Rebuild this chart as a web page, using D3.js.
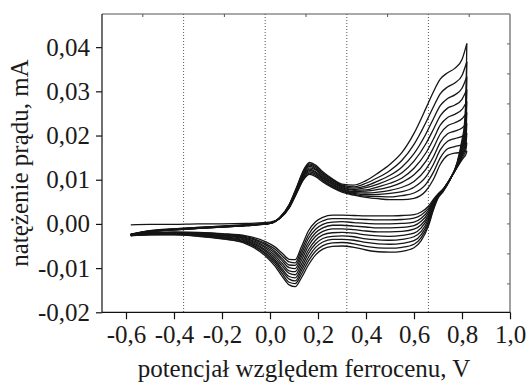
<!DOCTYPE html>
<html><head><meta charset="utf-8">
<script src="https://cdn.jsdelivr.net/npm/d3@7"></script>
<style>body{margin:0;background:#fff} svg{display:block}</style>
</head><body><svg id="c" width="530" height="383"></svg>
<script>
// ---- data ----
const xTicks = [-0.6, -0.4, -0.2, 0.0, 0.2, 0.4, 0.6, 0.8, 1.0];
const yTicks = [-0.02, -0.01, 0.00, 0.01, 0.02, 0.03, 0.04];
const topGrid = [-0.36, -0.02, 0.32, 0.66];
const topTicks = [-0.53, -0.19, 0.15, 0.49, 0.83];
const rightTicks = [-2, -1, 0, 1, 2, 3, 4, 5, 6];

// forward (anodic) scan potentials, V
const forwardPotential = [-0.58, -0.50, -0.40, -0.30, -0.20, -0.10, 0.00, 0.04, 0.08, 0.11, 0.14, 0.165, 0.19, 0.22, 0.26, 0.30, 0.35, 0.40, 0.45, 0.50, 0.55, 0.60, 0.65, 0.68, 0.71, 0.74, 0.77, 0.80, 0.82];
// forward scan current, mA, cycles 1..10
const forwardCurrent = [
 [-0.0002,-0.0001,-0.0001,0.0000,0.0000,0.0001,0.0004,0.0012,0.0036,0.0068,0.0100,0.0112,0.0107,0.0095,0.0082,0.0072,0.0065,0.0060,0.0057,0.0055,0.0055,0.0058,0.0075,0.0100,0.0135,0.0155,0.0160,0.0162,0.0165],
 [-0.0023,-0.0015,-0.0011,-0.0008,-0.0005,-0.0002,0.0002,0.0012,0.0037,0.0070,0.0102,0.0115,0.0110,0.0098,0.0084,0.0074,0.0067,0.0063,0.0062,0.0061,0.0064,0.0070,0.0090,0.0116,0.0150,0.0170,0.0175,0.0179,0.0184],
 [-0.0024,-0.0016,-0.0011,-0.0008,-0.0005,-0.0002,0.0002,0.0012,0.0038,0.0071,0.0105,0.0118,0.0113,0.0100,0.0086,0.0076,0.0069,0.0066,0.0067,0.0069,0.0073,0.0083,0.0107,0.0134,0.0168,0.0187,0.0193,0.0198,0.0206],
 [-0.0024,-0.0016,-0.0012,-0.0009,-0.0006,-0.0003,0.0002,0.0013,0.0039,0.0073,0.0107,0.0121,0.0116,0.0103,0.0089,0.0078,0.0071,0.0070,0.0072,0.0076,0.0083,0.0096,0.0124,0.0151,0.0185,0.0204,0.0210,0.0217,0.0228],
 [-0.0025,-0.0017,-0.0012,-0.0009,-0.0006,-0.0003,0.0002,0.0013,0.0040,0.0074,0.0110,0.0124,0.0118,0.0105,0.0091,0.0080,0.0073,0.0074,0.0078,0.0084,0.0094,0.0111,0.0142,0.0171,0.0204,0.0222,0.0229,0.0238,0.0252],
 [-0.0025,-0.0017,-0.0012,-0.0009,-0.0006,-0.0003,0.0001,0.0013,0.0040,0.0076,0.0112,0.0127,0.0122,0.0108,0.0093,0.0082,0.0076,0.0077,0.0084,0.0092,0.0104,0.0126,0.0161,0.0191,0.0224,0.0241,0.0248,0.0259,0.0277],
 [-0.0025,-0.0017,-0.0013,-0.0010,-0.0007,-0.0003,0.0001,0.0013,0.0041,0.0077,0.0115,0.0130,0.0124,0.0110,0.0095,0.0084,0.0078,0.0082,0.0090,0.0101,0.0116,0.0142,0.0182,0.0213,0.0245,0.0262,0.0269,0.0282,0.0304],
 [-0.0026,-0.0018,-0.0013,-0.0010,-0.0007,-0.0004,0.0001,0.0014,0.0042,0.0079,0.0117,0.0133,0.0127,0.0113,0.0098,0.0086,0.0081,0.0086,0.0097,0.0110,0.0129,0.0159,0.0204,0.0237,0.0268,0.0284,0.0292,0.0307,0.0333],
 [-0.0026,-0.0018,-0.0013,-0.0010,-0.0007,-0.0004,0.0001,0.0014,0.0043,0.0080,0.0120,0.0136,0.0130,0.0115,0.0100,0.0088,0.0084,0.0092,0.0105,0.0121,0.0144,0.0180,0.0230,0.0264,0.0295,0.0310,0.0319,0.0336,0.0367],
 [-0.0027,-0.0018,-0.0014,-0.0010,-0.0007,-0.0004,0.0001,0.0014,0.0044,0.0082,0.0122,0.0139,0.0133,0.0118,0.0102,0.0090,0.0088,0.0098,0.0115,0.0135,0.0162,0.0205,0.0262,0.0298,0.0328,0.0342,0.0352,0.0372,0.0408]
];

// reverse (cathodic) scan potentials, V
const reversePotential = [0.82, 0.818, 0.815, 0.81, 0.80, 0.78, 0.75, 0.72, 0.70, 0.68, 0.66, 0.63, 0.60, 0.55, 0.50, 0.45, 0.40, 0.35, 0.30, 0.26, 0.22, 0.19, 0.16, 0.13, 0.105, 0.08, 0.05, 0.02, -0.02, -0.10, -0.20, -0.30, -0.40, -0.50, -0.58];
// reverse scan current, mA, cycles 1..10
const reverseCurrent = [
 [0.0165,0.0160,0.0156,0.0152,0.0145,0.0128,0.0102,0.0078,0.0068,0.0055,0.0040,0.0027,0.0021,0.0019,0.0018,0.0018,0.0018,0.0019,0.0020,0.0020,0.0015,0.0005,-0.0016,-0.0053,-0.0081,-0.0080,-0.0066,-0.0052,-0.0040,-0.0027,-0.0022,-0.0019,-0.0018,-0.0020,-0.0023],
 [0.0184,0.0174,0.0165,0.0158,0.0149,0.0129,0.0102,0.0078,0.0067,0.0052,0.0035,0.0020,0.0013,0.0010,0.0009,0.0009,0.0010,0.0011,0.0012,0.0012,0.0007,-0.0003,-0.0025,-0.0061,-0.0088,-0.0086,-0.0072,-0.0057,-0.0044,-0.0029,-0.0023,-0.0020,-0.0019,-0.0021,-0.0023],
 [0.0206,0.0189,0.0175,0.0164,0.0153,0.0130,0.0101,0.0077,0.0066,0.0050,0.0030,0.0013,0.0004,0.0001,0.0000,0.0000,0.0001,0.0003,0.0005,0.0004,-0.0001,-0.0012,-0.0033,-0.0069,-0.0094,-0.0093,-0.0078,-0.0062,-0.0047,-0.0031,-0.0025,-0.0021,-0.0020,-0.0021,-0.0024],
 [0.0228,0.0204,0.0186,0.0171,0.0157,0.0131,0.0101,0.0077,0.0065,0.0047,0.0025,0.0006,-0.0004,-0.0008,-0.0009,-0.0009,-0.0007,-0.0005,-0.0003,-0.0003,-0.0009,-0.0020,-0.0042,-0.0076,-0.0101,-0.0099,-0.0083,-0.0066,-0.0051,-0.0033,-0.0026,-0.0022,-0.0020,-0.0022,-0.0024],
 [0.0252,0.0221,0.0197,0.0178,0.0161,0.0132,0.0101,0.0076,0.0064,0.0044,0.0020,-0.0002,-0.0012,-0.0017,-0.0018,-0.0018,-0.0016,-0.0013,-0.0011,-0.0011,-0.0017,-0.0028,-0.0050,-0.0084,-0.0108,-0.0106,-0.0089,-0.0071,-0.0054,-0.0035,-0.0027,-0.0023,-0.0021,-0.0022,-0.0025],
 [0.0277,0.0238,0.0208,0.0186,0.0166,0.0134,0.0100,0.0075,0.0063,0.0041,0.0015,-0.0009,-0.0021,-0.0026,-0.0028,-0.0027,-0.0025,-0.0021,-0.0019,-0.0020,-0.0025,-0.0037,-0.0059,-0.0092,-0.0115,-0.0112,-0.0095,-0.0076,-0.0058,-0.0037,-0.0029,-0.0024,-0.0022,-0.0023,-0.0025],
 [0.0304,0.0257,0.0221,0.0194,0.0171,0.0135,0.0100,0.0075,0.0062,0.0038,0.0010,-0.0017,-0.0029,-0.0035,-0.0037,-0.0036,-0.0034,-0.0029,-0.0027,-0.0028,-0.0033,-0.0045,-0.0067,-0.0100,-0.0122,-0.0119,-0.0101,-0.0081,-0.0061,-0.0039,-0.0030,-0.0025,-0.0023,-0.0023,-0.0025],
 [0.0333,0.0277,0.0235,0.0202,0.0176,0.0136,0.0100,0.0074,0.0061,0.0036,0.0005,-0.0024,-0.0038,-0.0044,-0.0046,-0.0045,-0.0042,-0.0037,-0.0035,-0.0035,-0.0041,-0.0053,-0.0076,-0.0107,-0.0129,-0.0125,-0.0106,-0.0085,-0.0065,-0.0041,-0.0031,-0.0026,-0.0023,-0.0024,-0.0026],
 [0.0367,0.0301,0.0251,0.0213,0.0182,0.0138,0.0100,0.0073,0.0060,0.0033,0.0000,-0.0031,-0.0046,-0.0053,-0.0055,-0.0054,-0.0051,-0.0045,-0.0042,-0.0043,-0.0049,-0.0062,-0.0084,-0.0115,-0.0135,-0.0132,-0.0112,-0.0090,-0.0068,-0.0043,-0.0033,-0.0027,-0.0024,-0.0024,-0.0026],
 [0.0408,0.0330,0.0270,0.0225,0.0190,0.0140,0.0100,0.0072,0.0058,0.0030,-0.0005,-0.0038,-0.0054,-0.0062,-0.0064,-0.0063,-0.0059,-0.0053,-0.0050,-0.0051,-0.0057,-0.0070,-0.0093,-0.0123,-0.0142,-0.0138,-0.0118,-0.0095,-0.0072,-0.0045,-0.0034,-0.0028,-0.0025,-0.0025,-0.0027]
];

// ---- chart ----
const FONT = '"Liberation Serif","Times New Roman",serif';
const L = 102, R = 510, T = 14, B = 312.3;
const svg = d3.select('#c');
const x = d3.scaleLinear().domain([-0.7, 1.0]).range([L, R]);
const y = d3.scaleLinear().domain([-0.02, 0.0475]).range([B, T]);
const y2 = d3.scaleLinear().domain([0, 1]).range([y(0), y(0) - 30]);
const fmt = (p) => (d) => d3.format('.' + p + 'f')(d).replace('.', ',').replace('\u2212', '-');

// dotted verticals
svg.append('g').selectAll('line').data(topGrid).join('line')
  .attr('x1', d => x(d)).attr('x2', d => x(d)).attr('y1', T).attr('y2', B)
  .attr('stroke', '#555').attr('stroke-width', 1).attr('stroke-dasharray', '1,2');

// curves
const line = d3.line().x(d => x(d[0])).y(d => y(d[1])).curve(d3.curveMonotoneX);
const g = svg.append('g').attr('fill', 'none').attr('stroke', '#151515').attr('stroke-width', 1.3).attr('stroke-linejoin', 'round');
forwardCurrent.forEach(arr => {
  g.append('path').attr('d', line(forwardPotential.map((v, i) => [v, arr[i]])));
});
reverseCurrent.forEach(arr => {
  const pts = reversePotential.map((v, i) => [v, arr[i]]).reverse();
  g.append('path').attr('d', line(pts));
});

// top axis (gray)
const topAx = svg.append('g');
topAx.append('line').attr('x1', L).attr('x2', R).attr('y1', T).attr('y2', T).attr('stroke', '#555').attr('stroke-width', 1.2);
topAx.selectAll('.tt').data(topTicks).join('line').attr('class', 'tt')
  .attr('x1', d => x(d)).attr('x2', d => x(d)).attr('y1', T).attr('y2', T + 3).attr('stroke', '#555');
// right axis (gray)
const rightAx = svg.append('g');
rightAx.append('line').attr('x1', R).attr('x2', R).attr('y1', T).attr('y2', B).attr('stroke', '#888').attr('stroke-width', 1.6);
rightAx.selectAll('.rt').data(rightTicks).join('line').attr('class', 'rt')
  .attr('x1', R - 3).attr('x2', R).attr('y1', d => y2(d)).attr('y2', d => y2(d)).attr('stroke', '#666');

// left axis
const ax = svg.append('g').attr('transform', `translate(${L},0)`)
  .call(d3.axisLeft(y).tickValues(yTicks).tickSize(6).tickPadding(6).tickFormat(fmt(2)));
// bottom axis
const bx = svg.append('g').attr('transform', `translate(0,${B})`)
  .call(d3.axisBottom(x).tickValues(xTicks).tickSize(7).tickPadding(6).tickFormat(fmt(1)));
[ax, bx].forEach(a => {
  a.attr('font-family', FONT).attr('font-size', 25);
  a.selectAll('path').attr('stroke', '#111').attr('stroke-width', 1.2);
  a.selectAll('line').attr('stroke', '#111').attr('stroke-width', 1.2);
  a.selectAll('text').attr('font-family', FONT).attr('font-size', 25).attr('fill', '#1a1a1a');
});
ax.select('.domain').attr('d', `M0,${T}V${B}`);
bx.select('.domain').attr('d', `M${L},0H${R}`);

// titles
svg.append('text').attr('x', 304).attr('y', 377).attr('text-anchor', 'middle')
  .attr('font-family', FONT).attr('font-size', 25).attr('fill', '#1a1a1a')
  .text('potencjał względem ferrocenu, V');
svg.append('text').attr('transform', `translate(28,163) rotate(-90)`).attr('text-anchor', 'middle')
  .attr('font-family', FONT).attr('font-size', 25).attr('fill', '#1a1a1a')
  .text('natężenie prądu, mA');
</script></body></html>
